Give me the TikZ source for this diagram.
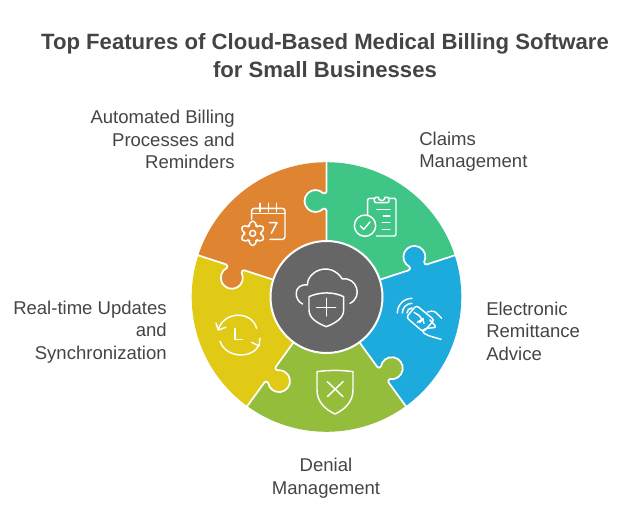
\documentclass[tikz,border=0pt]{standalone}
\usepackage{fontspec}
\setmainfont{Liberation Sans}
\definecolor{titlegray}{HTML}{444444}
\definecolor{hubgray}{HTML}{666666}
\definecolor{claimsgreen}{HTML}{3FC585}
\definecolor{billorange}{HTML}{DF8431}
\definecolor{syncyellow}{HTML}{E0CA15}
\definecolor{denialgreen}{HTML}{94BD3B}
\definecolor{adviceblue}{HTML}{1DAADD}
\tikzset{
  titletext/.style={inner sep=0pt,align=center,text=titlegray,font=\fontsize{16.6}{21}\selectfont\bfseries},
  labeltext/.style={inner sep=0pt,text=titlegray,font=\fontsize{13.9}{16.9}\selectfont},
  seam/.style={draw=white,line width=1.3pt},
  iconline/.style={draw=white,line width=1.1pt,line cap=round,line join=round},
}
\begin{document}
\begin{tikzpicture}[x=0.75pt,y=0.75pt,yscale=-1,xscale=1]
  \useasboundingbox (0,0) rectangle (632,531);

  % Title
  \node[titletext] (title) at (325,55.5) {Top Features of Cloud-Based Medical Billing Software\\for Small Businesses};

  % Labels
  \node[labeltext,align=right,anchor=east] (billing) at (235,139.5) {Automated Billing\\Processes and\\Reminders};
  \node[labeltext,align=left,anchor=west] (claims) at (419,151.5) {Claims\\Management};
  \node[labeltext,align=left,anchor=west] (advice) at (486,331) {Electronic\\Remittance\\Advice};
  \node[labeltext,align=center] (denial) at (326,478) {Denial\\Management};
  \node[labeltext,align=right,anchor=east] (sync) at (167,332) {Real-time Updates\\and\\Synchronization};

  % Puzzle ring
  \begin{scope}[shift={(326.5,297)},yscale=-1]
    \foreach \ang/\col in {18/claimsgreen,90/billorange,162/syncyellow,234/denialgreen,306/adviceblue}{
      \fill[\col] (0,0) -- (\ang:134.8) arc[start angle=\ang,delta angle=72,radius=134.8] -- cycle;
    }
    % knob of each piece lies over the next piece
    \foreach \ang/\col in {18/adviceblue,90/claimsgreen,162/billorange,234/syncyellow,306/denialgreen}{
      \begin{scope}[rotate=\ang]
        \fill[\col] (88.2,-1) -- (88.2,3.2) arc[start angle=225,end angle=-45,radius=11] -- (103.8,-1) -- cycle;
        \draw[seam] (50,0) -- (86.5,0) to[out=0,in=-60] (88.2,3.2) arc[start angle=225,end angle=-45,radius=11] to[out=-120,in=180] (105.5,0) -- (136,0);
      \end{scope}
    }
  \end{scope}
  \node[circle,fill=hubgray,draw=white,line width=1.5pt,minimum size=84pt,inner sep=0pt] (hub) at (326.5,297) {};

  % Calendar and gear
  \begin{scope}[shift={(180,150)},x=0.25pt,y=0.25pt]
    \draw[iconline,rounded corners=2pt] (215,208) -- (215,175) -- (315,175) -- (315,268) -- (270,268);
    \draw[iconline] (215,190) -- (315,190);
    \foreach \ringx in {240,265,290}{
      \draw[iconline] (\ringx,160) -- (\ringx,185);
    }
    \draw[iconline] (268,218) -- (291,218) -- (274,250);
    \begin{scope}[shift={(218,250)}]
      \draw[iconline,rounded corners=1.4pt] (6:24)
        \foreach \tooth in {30,90,...,330}{
          -- (\tooth-12:37) -- (\tooth+12:37) -- (\tooth+24:24) -- (\tooth+36:24)
        } -- cycle;
      \draw[iconline] (0,0) circle[radius=9];
    \end{scope}
  \end{scope}

  % Clipboard and check
  \begin{scope}[shift={(325,150)},x=0.25pt,y=0.25pt]
    \draw[iconline,rounded corners=1.5pt] (128,195) -- (128,145) -- (148,145);
    \draw[iconline,rounded corners=1.5pt] (192,145) -- (213,145) -- (213,258) -- (155,258);
    \draw[iconline,rounded corners=1pt] (160,142) -- (148,142) -- (148,158) -- (192,158) -- (192,142) -- (180,142);
    \draw[iconline] (160,142) arc[start angle=180,end angle=0,radius=10];
    \draw[iconline] (155,178) -- (195,178);
    \draw[iconline] (175,198) -- (195,198);
    \draw[iconline] (172,218) -- (195,218);
    \draw[iconline] (172,238) -- (195,238);
    \draw[iconline] (120,227) circle[radius=32];
    \draw[iconline] (106,228) -- (116,238) -- (135,216);
  \end{scope}

  % Contactless card
  \begin{scope}[shift={(340,270)},x=0.25pt,y=0.25pt]
    \foreach \waverad in {15,29,44}{
      \draw[iconline] (216,129) ++(180:\waverad) arc[start angle=180,end angle=270,radius=\waverad];
    }
    \draw[iconline,rounded corners=2pt] (229,106) -- (199,142) -- (250,186) -- (283,150) -- cycle;
    \draw[iconline] (222,127) -- (238,137) -- (246,148) -- (232,157);
    \draw[iconline] (238,158) -- (250,146);
    \draw[iconline] (248,148) -- (252,160);
    \draw[iconline,rounded corners=2pt] (262,126) -- (282,122) -- (305,145);
    \draw[iconline,rounded corners=2pt] (270,150) -- (290,172) -- (252,176) -- (246,186) -- (262,196) -- (303,208);
  \end{scope}

  % Shield with cross
  \begin{scope}[shift={(240,330)},x=0.25pt,y=0.25pt]
    \draw[iconline] (231,125) .. controls (265,120) and (305,120) .. (339,125) -- (339,180) .. controls (339,215) and (315,238) .. (285,252) .. controls (255,238) and (231,215) .. (231,180) -- cycle;
    \draw[iconline] (262,155) -- (309,200);
    \draw[iconline] (309,155) -- (262,200);
  \end{scope}

  % Clock with arrows
  \begin{scope}[shift={(185,250)},x=0.25pt,y=0.25pt]
    \draw[iconline] (215,235) .. controls (200,182) and (118,182) .. (100,238);
    \draw[iconline] (93,219) -- (100,240) -- (122,232);
    \draw[iconline] (105,274) .. controls (125,328) and (205,325) .. (222,285);
    \draw[iconline] (200,277) -- (222,288) -- (225,265);
    \draw[iconline] (150,236) -- (150,268) -- (172,268);
  \end{scope}

  % Cloud with shield
  \begin{scope}[shift={(265,235)},x=0.25pt,y=0.25pt]
    \draw[iconline] (113,207) .. controls (85,195) and (85,145) .. (127,150) .. controls (125,110) and (195,75) .. (232,132) .. controls (275,125) and (295,185) .. (255,205);
    \draw[iconline] (132,185) .. controls (165,170) and (205,170) .. (236,185) -- (236,225) .. controls (236,250) and (210,265) .. (184,275) .. controls (158,265) and (132,250) .. (132,225) -- cycle;
    \draw[iconline] (155,217) -- (212,217);
    \draw[iconline] (184,190) -- (184,243);
  \end{scope}
\end{tikzpicture}
\end{document}
